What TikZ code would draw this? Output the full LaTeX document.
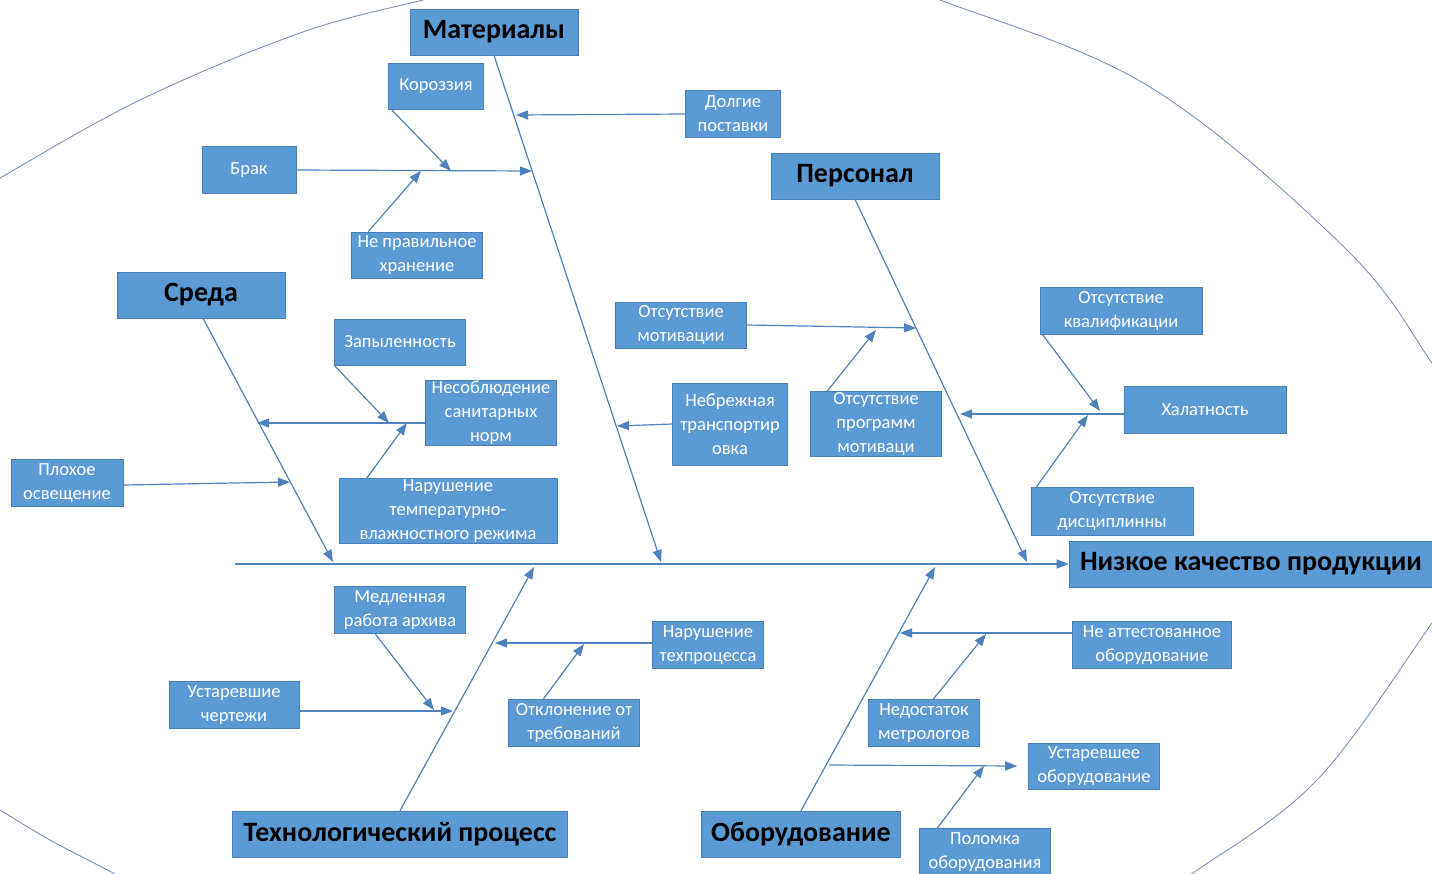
\documentclass[tikz,border=0pt]{standalone}
\usepackage{fontspec}
\setmainfont{Carlito}
\usetikzlibrary{arrows.meta}

\definecolor{boxblue}{HTML}{5B9BD5}
\definecolor{boxedge}{HTML}{4A7EBB}
\definecolor{bone}{HTML}{4F81BD}
\definecolor{rim}{HTML}{7A92B8}

\tikzset{
  cause/.style={fill=boxblue, draw=boxedge, line width=0.6pt, text=white, align=center,
                inner sep=1pt, font=\fontsize{18.5}{24}\selectfont},
  group/.style={cause, text=black, font=\fontsize{28}{32}\selectfont\bfseries},
  seg/.style={draw=bone, line width=1.2pt},
  arr/.style={seg, -{Triangle[length=12pt,width=9pt]}},
  rimline/.style={draw=rim, line width=0.9pt}
}

\begin{document}
\begin{tikzpicture}[x=1pt, y=-1pt] % pixel grid, y grows downwards

    \useasboundingbox (0,0) rectangle (1432,873);

    % Outer oval, only its four corners show
    \begin{scope}
      \clip (0,0) rectangle (1432,873);
      \draw[rimline] plot[smooth, tension=0.6] coordinates {(-40,202) (0,178) (140,100) (300,33) (423,0) (480,-13)};
      \draw[rimline] plot[smooth, tension=0.6] coordinates {(880,-18) (940,0) (1150,87) (1347,250) (1432,363) (1460,405)};
      \draw[rimline] plot[smooth, tension=0.6] coordinates {(1460,584) (1432,623) (1317,780) (1193,873) (1150,900)};
      \draw[rimline] plot[smooth, tension=0.6] coordinates {(-40,786) (0,810) (50,840) (113,873) (160,900)};
    \end{scope}

    % Head and spine
    \node[group, minimum width=364, minimum height=46] (effect) at (1251,564) {Низкое качество продукции};
    \coordinate (tail) at (235,564);
    \draw[arr] (tail) -- (effect.west);

    % Category boxes
    \node[group, minimum width=168, minimum height=46] (mat)   at (494,32)  {Материалы};
    \node[group, minimum width=168, minimum height=46] (pers)  at (855,176) {Персонал};
    \node[group, minimum width=168, minimum height=46] (env)   at (201,295) {Среда};
    \node[group, minimum width=335, minimum height=46] (proc)  at (400,834) {Технологический процесс};
    \node[group, minimum width=199, minimum height=46] (equip) at (801,834) {Оборудование};

    % Bones
    \coordinate (mat-root)   at (661,562);
    \coordinate (pers-root)  at (1027,562);
    \coordinate (env-root)   at (333,562);
    \coordinate (proc-root)  at (534,567);
    \coordinate (equip-root) at (935,567);
    \draw[arr] (mat.south)   -- (mat-root);
    \draw[arr] (pers.south)  -- (pers-root);
    \draw[arr] ([xshift=2]env.south) -- (env-root);
    \draw[arr] (proc.north)  -- (proc-root);
    \draw[arr] (equip.north) -- (equip-root);

    % Materials
    \node[cause, minimum width=95,  minimum height=46] (koroz) at (436,86)  {Короззия};
    \node[cause, minimum width=95,  minimum height=47] (dolg)  at (733,114) {Долгие\\поставки};
    \node[cause, minimum width=94,  minimum height=47] (brak)  at (249,170) {Брак};
    \node[cause, minimum width=131, minimum height=46] (hran)  at (417,255) {Не правильное\\хранение};
    \coordinate (dolg-end)  at (516,115);
    \coordinate (brak-end)  at (532,171);
    \coordinate (koroz-end) at (451,171);
    \coordinate (hran-end)  at (421,171);
    \draw[arr] (dolg.west) -- (dolg-end);
    \draw[arr] (brak.east) -- (brak-end);
    \draw[arr] ([xshift=3]koroz.south west) -- (koroz-end);
    \draw[arr] ([xshift=17]hran.north west) -- (hran-end);

    % Environment
    \node[cause, minimum width=131, minimum height=46] (zap)   at (400,342) {Запыленность};
    \node[cause, minimum width=131, minimum height=65] (sanit) at (491,413) {Несоблюдение\\санитарных\\норм};
    \node[cause, minimum width=112, minimum height=47] (osv)   at (67,483)  {Плохое\\освещение};
    \node[cause, minimum width=218, minimum height=65] (temp)  at (448,511) {Нарушение\\температурно-\\влажностного режима};
    \coordinate (sanit-end) at (257,423);
    \coordinate (zap-end)   at (389,423);
    \coordinate (temp-end)  at (407,423);
    \coordinate (osv-end)   at (290,482);
    \draw[arr] ([yshift=-10]sanit.west) -- (sanit-end);
    \draw[arr] (zap.south west) -- (zap-end);
    \draw[arr] ([xshift=28]temp.north west) -- (temp-end);
    \draw[arr] ([yshift=-2]osv.east) -- (osv-end);

    % Personnel
    \node[cause, minimum width=131, minimum height=46] (motiv)  at (681,325)  {Отсутствие\\мотивации};
    \node[cause, minimum width=115, minimum height=82] (transp) at (730,424)  {Небрежная\\транспортир\\овка};
    \node[cause, minimum width=131, minimum height=65] (prog)   at (876,424)  {Отсутствие\\программ\\мотиваци};
    \node[cause, minimum width=162, minimum height=47] (kval)   at (1121,311) {Отсутствие\\квалификации};
    \node[cause, minimum width=162, minimum height=47] (halat)  at (1205,410) {Халатность};
    \node[cause, minimum width=162, minimum height=48] (disc)   at (1112,511) {Отсутствие\\дисциплинны};
    \coordinate (motiv-end)  at (916,328);
    \coordinate (prog-end)   at (876,330);
    \coordinate (transp-end) at (617,426);
    \coordinate (halat-end)  at (960,414);
    \coordinate (kval-end)   at (1100,411);
    \coordinate (disc-end)   at (1088,415);
    \draw[arr] (motiv.east) -- (motiv-end);
    \draw[arr] ([xshift=17]prog.north west) -- (prog-end);
    \draw[arr] (transp.west) -- (transp-end);
    \draw[arr] ([yshift=-4]halat.west) -- (halat-end);
    \draw[arr] ([xshift=3]kval.south west) -- (kval-end);
    \draw[arr] ([xshift=6]disc.north west) -- (disc-end);

    % Process
    \node[cause, minimum width=131, minimum height=47] (arch)  at (400,610) {Медленная\\работа архива};
    \node[cause, minimum width=111, minimum height=47] (tproc) at (708,645) {Нарушение\\техпроцесса};
    \node[cause, minimum width=130, minimum height=47] (draw)  at (234,705) {Устаревшие\\чертежи};
    \node[cause, minimum width=131, minimum height=47] (otkl)  at (574,723) {Отклонение от\\требований};
    \coordinate (tproc-end) at (495,643);
    \coordinate (otkl-end)  at (584,644);
    \coordinate (arch-end)  at (434,710);
    \coordinate (draw-end)  at (453,711);
    \draw[arr] ([yshift=2]tproc.west) -- (tproc-end);
    \draw[arr] ([xshift=35]otkl.north west) -- (otkl-end);
    \draw[arr] ([xshift=41]arch.south west) -- (arch-end);
    \draw[arr] ([yshift=-6]draw.east) -- (draw-end);

    % Equipment
    \node[cause, minimum width=159, minimum height=47] (attest) at (1152,645) {Не аттестованное\\оборудование};
    \node[cause, minimum width=111, minimum height=47] (metr)   at (924,723)  {Недостаток\\метрологов};
    \node[cause, minimum width=131, minimum height=46] (old)    at (1094,766) {Устаревшее\\оборудование};
    \node[cause, minimum width=131, minimum height=47] (brk)    at (985,852)  {Поломка\\оборудования};
    \coordinate (attest-end) at (900,633);
    \coordinate (metr-end)   at (986,634);
    \coordinate (old-start)  at (829,765);
    \coordinate (brk-end)    at (984,766);
    \draw[arr] ([yshift=12]attest.west) -- (attest-end);
    \draw[arr] ([xshift=65]metr.north west) -- (metr-end);
    \draw[arr] (old-start) -- ([xshift=-11]old.west);
    \draw[arr] ([xshift=18]brk.north west) -- (brk-end);

\end{tikzpicture}
\end{document}
